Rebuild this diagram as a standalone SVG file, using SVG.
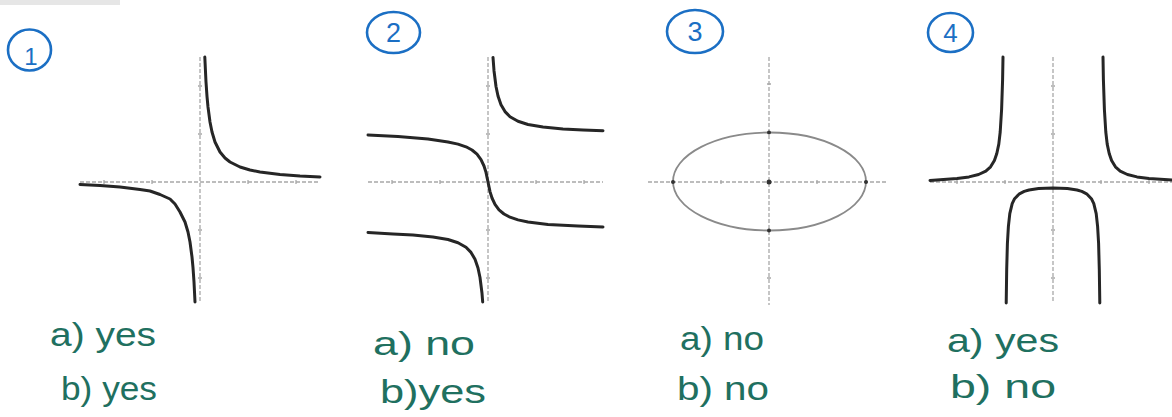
<svg xmlns="http://www.w3.org/2000/svg" width="1172" height="417" viewBox="0 0 1172 417">
<style>
.axis{stroke:#a8a8a8;stroke-width:1.3;stroke-dasharray:4 2;fill:none}
.tick{stroke:#a8a8a8;stroke-width:1.3}
.curve{stroke:#262626;stroke-width:3;fill:none;stroke-linecap:round;stroke-linejoin:round}
.ell{stroke:#8a8a8a;stroke-width:1.8;fill:none}
.circ{stroke:#1b6fc4;stroke-width:2.6;fill:none}
.num{fill:#1b6fc4;font-family:"Liberation Sans",Arial,sans-serif;text-anchor:middle}
.ans{fill:#1f7060;font-family:"Liberation Sans",Arial,sans-serif;font-size:34px}
.dot{fill:#333}
</style>
<rect width="1172" height="417" fill="#ffffff"/>
<rect x="0" y="0" width="120" height="5" fill="#e6e6e6"/>

<g id="graph1">
<ellipse class="circ" cx="29.5" cy="50" rx="21.5" ry="20.5"/>
<text class="num" x="31" y="65" font-size="24">1</text>
<line class="axis" x1="200" y1="57" x2="200" y2="302"/>
<line class="axis" x1="80" y1="182" x2="320" y2="182"/>
<path class="tick" d="M104,180v4M152,180v4M248,180v4M296,180v4M198,86h4M198,134h4M198,230h4M198,278h4"/>
<polyline class="curve" points="204.8,57 206,82 207,96.3 208,107 210,122 212,132 215,142 220,152 225,158 230,162 240,167 250,170 260,172 280,174.5 300,176 320,177"/>
<polyline class="curve" points="195,302 194,282 193,267.7 192,257 190,242 188,232 185,222 180,212 175,204 170,199 160,194.5 150,191 140,189.5 120,187 100,185.5 80,184.5"/>
<text class="ans" x="50" y="346" textLength="106" lengthAdjust="spacingAndGlyphs">a) yes</text>
<text class="ans" x="61" y="400" textLength="96" lengthAdjust="spacingAndGlyphs">b) yes</text>
</g>

<g id="graph2">
<ellipse class="circ" cx="393.5" cy="32.5" rx="26.5" ry="20.5"/>
<text class="num" x="393.5" y="42" font-size="27">2</text>
<line class="axis" x1="488" y1="57" x2="488" y2="302"/>
<line class="axis" x1="368" y1="182" x2="603" y2="182"/>
<path class="tick" d="M392,180v4M440,180v4M536,180v4M584,180v4M486,86h4M486,134h4M486,230h4M486,278h4"/>
<polyline class="curve" points="493,57.4 494,70.7 496,86.5 498,96 501,104.8 505,111.6 510,116.7 518,121.3 528,124.5 543,127.1 563,128.9 583,130 603,130.7"/>
<polyline class="curve" points="368,135 398,136.5 428,139 448,142 458,144.1 466,146.8 472,150 477,154.2 481,159.6 484,166 486,172.4 488,182 490,191.6 492,198 495,204.4 499,209.8 504,214 510,217.2 518,219.9 528,222 548,224.4 578,226.1 603,227"/>
<polyline class="curve" points="482.7,302 482,293.3 480,277.5 478,268 475,259.2 471,252.4 466,247.3 458,242.7 448,239.5 433,236.9 413,235.1 393,234 368,232.5"/>
<text class="ans" x="373" y="355" textLength="102" lengthAdjust="spacingAndGlyphs">a) no</text>
<text class="ans" x="380" y="403" textLength="106" lengthAdjust="spacingAndGlyphs">b)yes</text>
</g>

<g id="graph3">
<ellipse class="circ" cx="695" cy="31.5" rx="28" ry="21.5"/>
<text class="num" x="695" y="41" font-size="27">3</text>
<line class="axis" x1="769" y1="57" x2="769" y2="305"/>
<line class="axis" x1="648" y1="182" x2="887" y2="182"/>
<path class="tick" d="M721,180v4M817,180v4M767,84h4M767,278h4"/>
<ellipse class="ell" cx="769.5" cy="181.5" rx="96.5" ry="49"/>
<circle class="dot" cx="769" cy="182" r="2.5"/>
<circle class="dot" cx="673" cy="182" r="2"/>
<circle class="dot" cx="866" cy="182" r="2"/>
<circle class="dot" cx="769" cy="132.5" r="2"/>
<circle class="dot" cx="769" cy="230.5" r="2"/>
<text class="ans" x="680" y="350" textLength="84" lengthAdjust="spacingAndGlyphs">a) no</text>
<text class="ans" x="677" y="400" textLength="92" lengthAdjust="spacingAndGlyphs">b) no</text>
</g>

<g id="graph4">
<ellipse class="circ" cx="950.5" cy="32.5" rx="22.5" ry="19.5"/>
<text class="num" x="950.5" y="42" font-size="26">4</text>
<line class="axis" x1="1053" y1="57" x2="1053" y2="303"/>
<line class="axis" x1="930" y1="182" x2="1172" y2="182"/>
<path class="tick" d="M957,180v4M1005,180v4M1101,180v4M1149,180v4M1051,86h4M1051,134h4M1051,230h4M1051,278h4"/>
<polyline class="curve" points="1103,57 1103.4,79.6 1104.4,109.5 1105.8,132 1107.2,144.1 1109.2,153.5 1111.6,160.5 1115.4,166.8 1120.2,171.1 1127.4,174.5 1137,176.9 1149,178.5 1172,180"/>
<polyline class="curve" points="1003,57 1002.6,79.6 1001.6,109.5 1000.2,132 998.8,144.1 996.8,153.5 994.4,160.5 990.6,166.8 985.8,171.1 978.6,174.5 969,176.9 957,178.5 930,180.5"/>
<polyline class="curve" points="1006.2,303 1006.7,269.2 1007.4,243.5 1008.4,226.4 1009.8,213.6 1012.2,203.6 1014.6,198.7 1019.4,193.8 1024.2,191.4 1029,190 1038.6,188.6 1053,188 1067.4,188.6 1077,190 1081.8,191.4 1086.6,193.8 1091.4,198.7 1093.8,203.6 1096.2,213.6 1097.6,226.4 1098.6,243.5 1099.3,269.2 1099.8,303"/>
<text class="ans" x="947" y="352" textLength="112" lengthAdjust="spacingAndGlyphs">a) yes</text>
<text class="ans" x="950" y="398" textLength="106" lengthAdjust="spacingAndGlyphs">b) no</text>
</g>
</svg>
